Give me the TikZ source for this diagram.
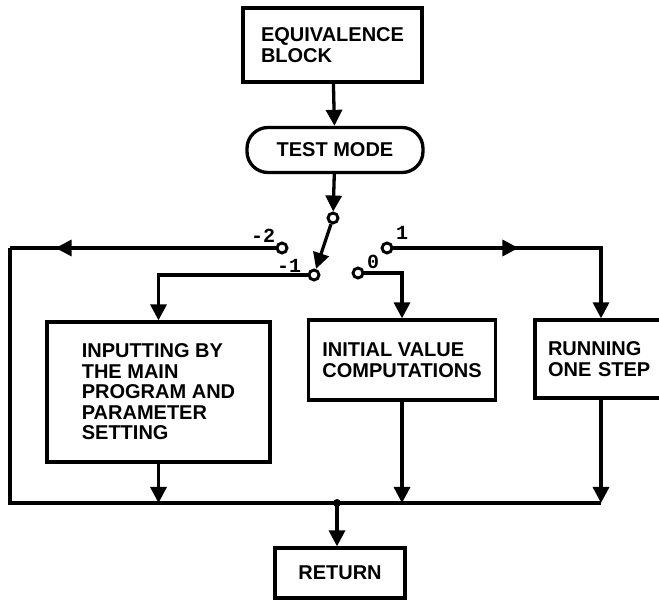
\documentclass[tikz,border=0pt]{standalone}
\usepackage{fontspec}
\setmainfont{Liberation Sans}
\newfontfamily\labfont{Liberation Mono}
\usetikzlibrary{arrows.meta,decorations.markings}
\tikzset{
  tip/.tip={Triangle[length=16pt,width=16pt]},
  conn/.style={line width=3.3pt},
  boxnode/.style={draw,line width=3.3pt,align=left,inner sep=0pt,
    font=\fontsize{20}{20.5}\selectfont\bfseries},
  sw/.style={draw,circle,line width=2.9pt,fill=white,minimum size=10pt,inner sep=0pt},
  lab/.style={font=\fontsize{20}{20}\selectfont\labfont\bfseries,inner sep=0pt},
  midarrow/.style={postaction={decorate,decoration={markings,
    mark=at position #1 with {\arrow{tip}}}}}
}
\begin{document}
\begin{tikzpicture}[x=1pt,y=-1pt]
\clip (0,0) rectangle (659,601);
% boxes
\node[boxnode,minimum width=179pt,minimum height=74pt] (eq) at (332.5,45) {EQUIVALENCE\\BLOCK};
\node[boxnode,rounded corners=21pt,minimum width=176pt,minimum height=45pt] (tm) at (335,150) {TEST MODE};
\node[boxnode,minimum width=223pt,minimum height=140pt] (inp) at (158.5,392) {INPUTTING BY\\THE MAIN\\PROGRAM AND\\PARAMETER\\SETTING};
\node[boxnode,minimum width=187pt,minimum height=80pt] (ini) at (402,360) {INITIAL VALUE\\COMPUTATIONS};
\node[boxnode,minimum width=132pt,minimum height=78pt,text width=106pt] (run) at (601,359) {RUNNING\\ONE STEP};
\node[boxnode,minimum width=130pt,minimum height=50pt] (ret) at (340,573) {RETURN};
% switch contacts
\node[sw] (s) at (333,218) {};
\node[sw] (m2) at (282,248) {};
\node[sw] (m1) at (314,275) {};
\node[sw] (z0) at (358,273) {};
\node[sw] (p1) at (387,248) {};
\node[lab] (lm2) at (263,236) {-2};
\node[lab] (lm1) at (289,266) {-1};
\node[lab] (lz0) at (373,262) {0};
\node[lab] (lp1) at (402,233) {1};
% corner coordinates
\coordinate (cTL) at (10,248);
\coordinate (cBL) at (10,503);
\coordinate (cBR) at (601,503);
\coordinate (bus) at (337,503);
% connectors
\draw[conn,-{tip}] (eq) -- (tm);
\draw[conn,-{tip}] (tm) -- (s);
\draw[conn,-{tip}] (s) -- (m1);
\draw[conn,midarrow=220pt] (m2) -- (cTL);
\draw[conn,line join=miter] (cTL) -- (cBL) -- (cBR);
\draw[conn,-{tip}] (m1) -| (inp.north);
\draw[conn,-{tip}] (z0) -| (ini.north);
\draw[conn,-{tip},midarrow=125pt] (p1) -| (run.north);
\draw[conn,-{tip}] (inp.south) -- (inp.south |- bus);
\draw[conn,-{tip}] (ini.south) -- (ini.south |- bus);
\draw[conn,-{tip}] (run.south) -- (cBR);
\fill (bus) circle (4pt);
\draw[conn,-{tip}] (bus) -- (ret.north -| bus);
\end{tikzpicture}
\end{document}
